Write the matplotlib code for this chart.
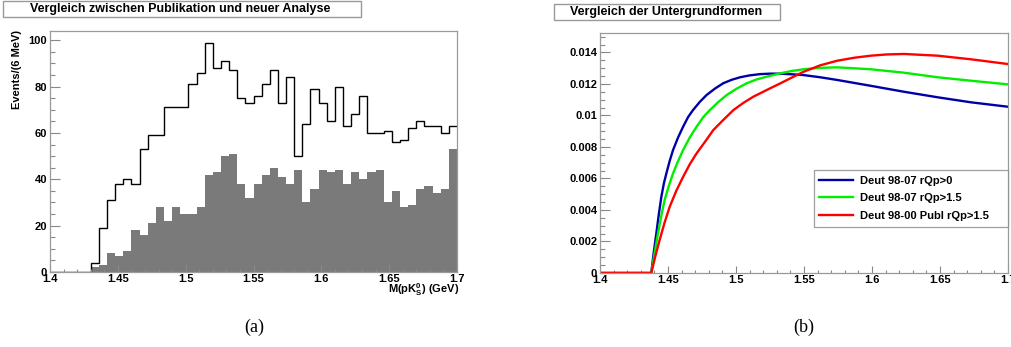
import numpy as np
import matplotlib.pyplot as plt
from matplotlib.patches import Rectangle

plt.rcParams['font.family'] = ['Liberation Sans', 'DejaVu Sans']
plt.rcParams['font.weight'] = 'bold'
plt.rcParams['mathtext.fontset'] = 'custom'
plt.rcParams['mathtext.rm'] = 'Liberation Sans:bold'
plt.rcParams['mathtext.it'] = 'Liberation Sans:bold'
plt.rcParams['mathtext.bf'] = 'Liberation Sans:bold'

# left: histograms, 50 bins of 6 MeV from 1.4 to 1.7 GeV
m_lo, m_hi, nbins = 1.4, 1.7, 50
publ = [0, 0, 0, 0, 0, 4, 19, 31, 38, 40,
        38, 53, 59, 59, 71, 71, 71, 81, 86, 99,
        88, 91, 87, 75, 73, 76, 81, 87, 73, 84,
        50, 64, 79, 73, 65, 80, 63, 68, 76, 60,
        60, 61, 56, 57, 62, 65, 63, 63, 60, 63]
neu = [0, 0, 0, 0, 0, 2, 3, 8, 7, 9,
       18, 16, 21, 28, 22, 28, 25, 25, 28, 42,
       43, 50, 51, 38, 32, 38, 42, 45, 41, 38,
       44, 30, 36, 44, 43, 44, 38, 43, 40, 43,
       44, 30, 35, 28, 29, 36, 37, 34, 36, 53]

# right: background shapes
m_blue = [1.4, 1.4377, 1.4395, 1.4414, 1.4432, 1.4451, 1.4470, 1.4488, 1.4512,
          1.4537, 1.4574, 1.4611, 1.4648, 1.4684, 1.4733, 1.4783, 1.4845,
          1.4906, 1.4968, 1.5030, 1.5100, 1.5177, 1.5250, 1.5325, 1.5410,
          1.5497, 1.5620, 1.5744, 1.5990, 1.6236, 1.6483, 1.6729, 1.7]
f_blue = [0, 0, 0.0013, 0.0025, 0.0037, 0.00483, 0.0057, 0.00632, 0.0071,
          0.0078, 0.0086, 0.00928, 0.0099, 0.01034, 0.01085, 0.01129, 0.0117,
          0.01204, 0.01226, 0.01242, 0.01254, 0.01262, 0.01265, 0.01265, 0.01261,
          0.01256, 0.01242, 0.01225, 0.01188, 0.0115, 0.01115, 0.01083, 0.01055]
m_green = [1.4, 1.4377, 1.4400, 1.4426, 1.4450, 1.4475, 1.4505, 1.4537, 1.4574,
           1.4611, 1.4660, 1.4710, 1.4760, 1.4808, 1.4870, 1.4931, 1.5005,
           1.5079, 1.5150, 1.5227, 1.5325, 1.5410, 1.5497, 1.5620, 1.5744,
           1.5990, 1.6236, 1.6483, 1.6729, 1.7]
f_green = [0, 0, 0.0012, 0.0025, 0.0036, 0.00462, 0.0055, 0.00632, 0.0071,
           0.0078, 0.0086, 0.00928, 0.0099, 0.01034, 0.01085, 0.01129, 0.0117,
           0.01204, 0.01228, 0.01246, 0.01267, 0.01282, 0.01293, 0.01302, 0.01305,
           0.01293, 0.01271, 0.01242, 0.0122, 0.01197]
m_red = [1.4, 1.4377, 1.4405, 1.4438, 1.4475, 1.4512, 1.4560, 1.4611, 1.4660,
         1.4710, 1.4770, 1.4833, 1.4905, 1.4981, 1.5055, 1.5128, 1.5251,
         1.5325, 1.5410, 1.5497, 1.5620, 1.5744, 1.5870, 1.5990, 1.6110,
         1.6236, 1.6483, 1.6729, 1.7]
f_red = [0, 0, 0.0010, 0.00208, 0.0032, 0.00419, 0.0052, 0.0061, 0.0069,
         0.00759, 0.0083, 0.00907, 0.0097, 0.01034, 0.0108, 0.01119, 0.01172,
         0.01203, 0.0124, 0.01277, 0.01318, 0.01347, 0.01366, 0.01379, 0.01387,
         0.0139, 0.01379, 0.01356, 0.01326]
labels = ['Deut 98-07 rQp>0', 'Deut 98-07 rQp>1.5', 'Deut 98-00 Publ rQp>1.5']

W, H = 1011, 347
fig = plt.figure(figsize=(W / 100, H / 100), dpi=100)
frame_col = '#9a9a9a'


def style(ax, xmaj, xmin, ymaj, ymin):
    ax.set_xticks(xmaj)
    ax.set_xticks(xmin, minor=True)
    ax.set_yticks(ymaj)
    ax.set_yticks(ymin, minor=True)
    ax.tick_params(which='both', direction='in', colors='#888888',
                   labelcolor='black', labelsize=8, width=0.8)
    ax.tick_params(axis='y', which='major', length=7, pad=2)
    ax.tick_params(axis='y', which='minor', length=3.5)
    ax.tick_params(axis='x', which='major', length=5, pad=1.5)
    ax.tick_params(axis='x', which='minor', length=2.5)
    for s in ax.spines.values():
        s.set_color(frame_col)
        s.set_linewidth(0.9)
    for t in ax.get_xticklabels() + ax.get_yticklabels():
        t.set_fontweight('bold')


xmaj = np.round(np.arange(1.4, 1.701, 0.05), 2)
xmin = np.round(np.arange(1.4, 1.701, 0.01), 2)

# ---- panel (a)
ax1 = fig.add_axes([50 / W, 1 - 272 / H, 407 / W, 241 / H])
edges = np.linspace(m_lo, m_hi, nbins + 1)
ax1.stairs(neu, edges, fill=True, color='#7a7a7a', lw=0)
ax1.stairs(publ, edges, color='black', lw=1.0, baseline=None)
ax1.set_xlim(m_lo, m_hi)
ax1.set_ylim(0, 104)
style(ax1, xmaj, xmin, np.arange(0, 101, 20), np.arange(0, 104, 5))
ax1.set_xticklabels(['1.4', '1.45', '1.5', '1.55', '1.6', '1.65', '1.7'])
fig.text(17 / W, 1 - 30 / H, 'Events/(6 MeV)', rotation=90, ha='center', va='top',
         fontsize=8, fontweight='bold')
fig.text(459 / W, 1 - 290 / H, r'M(pK$^0_S$) (GeV)', ha='right', va='center',
         fontsize=8, fontweight='bold')

# ---- panel (b)
ax2 = fig.add_axes([600 / W, 1 - 273 / H, 408 / W, 240 / H])
ax2.plot(m_blue, f_blue, color='#0000a8', lw=1.7, label=labels[0])
ax2.plot(m_green, f_green, color='#00ee00', lw=1.7, label=labels[1])
ax2.plot(m_red, f_red, color='#ff0000', lw=1.7, label=labels[2])
ax2.set_xlim(1.4, 1.7)
ax2.set_ylim(0, 0.01523)
style(ax2, xmaj, xmin, np.arange(0, 0.0141, 0.002), np.arange(0, 0.0152, 0.0005))
ax2.set_xticklabels(['1.4', '1.45', '1.5', '1.55', '1.6', '1.65', '1.7'])
ax2.set_yticklabels(['0', '0.002', '0.004', '0.006', '0.008', '0.01', '0.012', '0.014'])
leg = ax2.legend(loc='upper left', bbox_to_anchor=(0.524, 0.179, 0.476, 0.25),
                 mode='expand', fontsize=8, frameon=True, fancybox=False,
                 handlelength=3.0, handletextpad=0.7, labelspacing=0.7,
                 borderpad=0.5, borderaxespad=0)
leg.get_frame().set_edgecolor('#888888')
leg.get_frame().set_linewidth(0.9)
for t in leg.get_texts():
    t.set_fontweight('bold')

# title boxes
for (x0, y0, x1, y1, tx, txt) in [(3, 1, 361, 17, 30, 'Vergleich zwischen Publikation und neuer Analyse'),
                                  (554, 4, 780, 20, 570, 'Vergleich der Untergrundformen')]:
    fig.patches.append(Rectangle((x0 / W, 1 - y1 / H), (x1 - x0) / W, (y1 - y0) / H,
                                 transform=fig.transFigure, facecolor='white',
                                 edgecolor='#999999', lw=1.0))
    fig.text(tx / W, 1 - (y0 + y1) / 2 / H, txt, ha='left', va='center',
             fontsize=9, fontweight='bold')

fig.text(254 / W, 1 - 327 / H, '(a)', ha='center', va='center', fontsize=13,
         family=['Liberation Serif', 'DejaVu Serif'], fontweight='normal')
fig.text(804 / W, 1 - 327 / H, '(b)', ha='center', va='center', fontsize=13,
         family=['Liberation Serif', 'DejaVu Serif'], fontweight='normal')

fig.savefig('out.png', dpi=100)
